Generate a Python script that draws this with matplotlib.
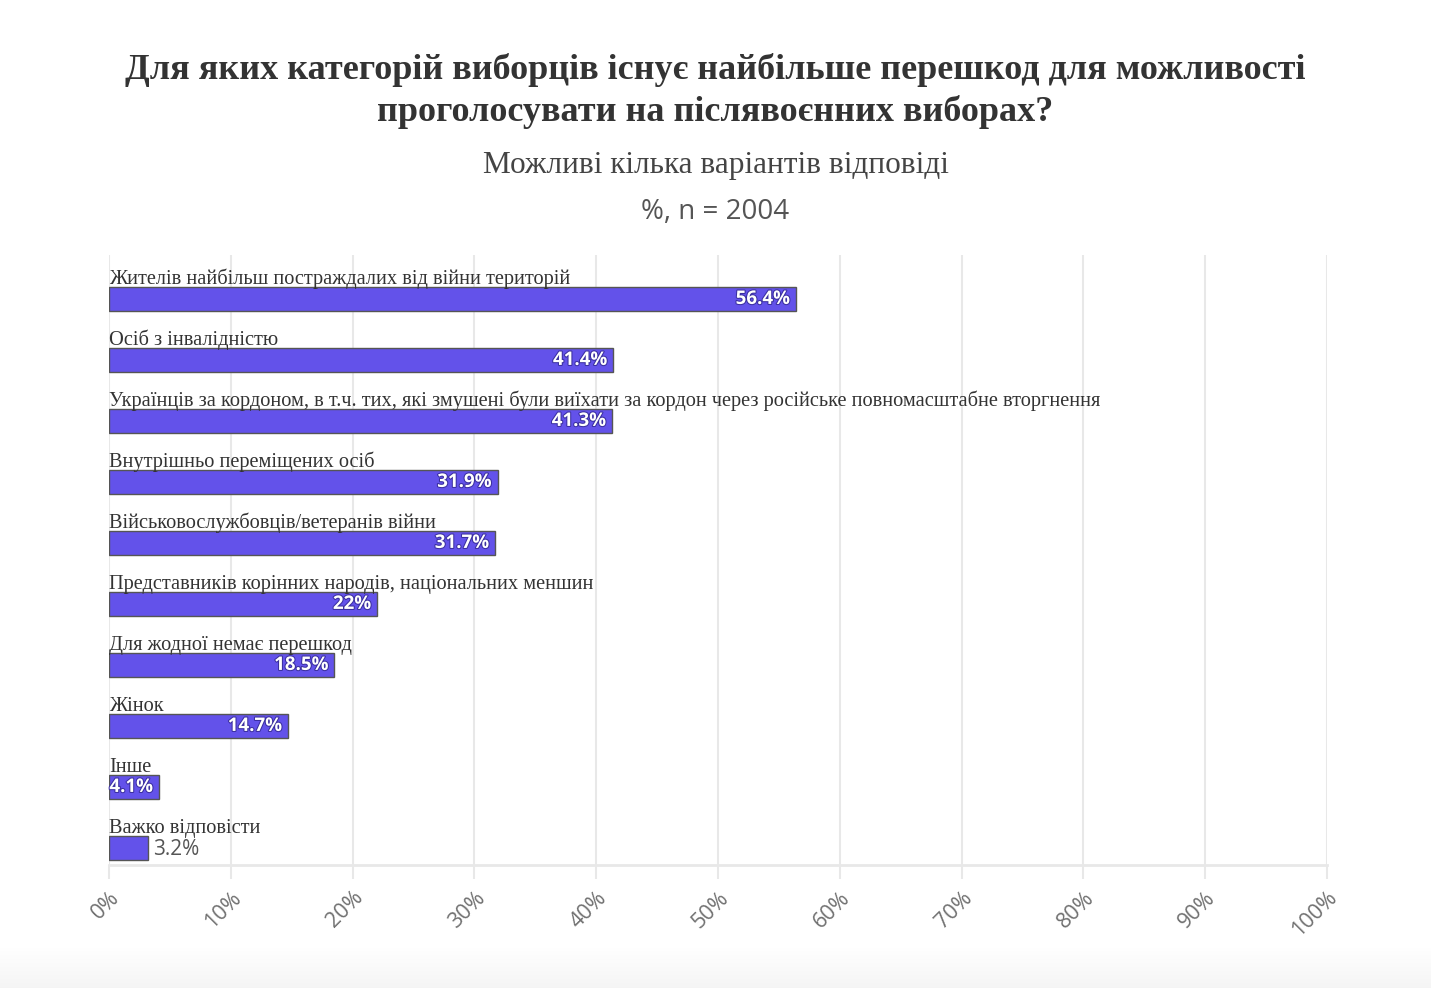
import numpy as np
import matplotlib.pyplot as plt
import matplotlib.patheffects as pe

categories = [
    'Жителів найбільш постраждалих від війни територій',
    'Осіб з інвалідністю',
    'Українців за кордоном, в т.ч. тих, які змушені були виїхати за кордон через російське повномасштабне вторгнення',
    'Внутрішньо переміщених осіб',
    'Військовослужбовців/ветеранів війни',
    'Представників корінних народів, національних меншин',
    'Для жодної немає перешкод',
    'Жінок',
    'Інше',
    'Важко відповісти',
]
values = [56.4, 41.4, 41.3, 31.9, 31.7, 22, 18.5, 14.7, 4.1, 3.2]
value_labels = ['56.4%', '41.4%', '41.3%', '31.9%', '31.7%', '22%', '18.5%', '14.7%', '4.1%', '3.2%']
xticks = np.arange(0, 101, 10)
xtick_labels = [f'{t}%' for t in xticks]

title = 'Для яких категорій виборців існує найбільше перешкод для можливості\nпроголосувати на післявоєнних виборах?'
subtitle = 'Можливі кілька варіантів відповіді'
note = '%, n = 2004'

bar_color = '#6352ea'
serif = ['Liberation Serif', 'DejaVu Serif']
sans = ['Open Sans', 'DejaVu Sans']

fig = plt.figure(figsize=(14.31, 9.88), dpi=100)
ax = fig.add_axes([109 / 1431, 1 - 865 / 988, (1327 - 109) / 1431, (865 - 255) / 988])

y = np.arange(len(categories))
ax.barh(y, values, height=0.39, color=bar_color, edgecolor='#555555', linewidth=1, zorder=3)

for i, (cat, v, lab) in enumerate(zip(categories, values, value_labels)):
    ax.annotate(cat, xy=(0, i), xytext=(0, 11), textcoords='offset points',
                ha='left', va='baseline', fontsize=14.7, family=serif, color='#333333',
                zorder=4, annotation_clip=False)
    if v >= 4:
        ax.annotate(lab, xy=(v, i), xytext=(-4, 0), textcoords='offset points',
                    ha='right', va='center', fontsize=13.5, family=sans, fontweight='bold',
                    color='white', zorder=5,
                    path_effects=[pe.withStroke(linewidth=1.5, foreground='#3b2fa0')])
    else:
        ax.annotate(lab, xy=(v, i), xytext=(4, -1), textcoords='offset points',
                    ha='left', va='center', fontsize=15, family=sans,
                    color='#555555', zorder=5)

ax.set_xlim(0, 100)
ax.set_ylim(9.28, -0.72)
ax.set_xticks(xticks)
ax.set_xticklabels(xtick_labels, rotation=45, ha='right', rotation_mode='anchor',
                   fontsize=15.5, family=sans, color='#707070')
ax.set_yticks([])
ax.tick_params(axis='x', length=10, color='#e8e8e8', width=1.5, pad=6)
ax.grid(axis='x', color='#e8e8e8', linewidth=1.5, zorder=0)
for s in ['top', 'right', 'left']:
    ax.spines[s].set_visible(False)
ax.spines['bottom'].set_color('#e8e8e8')
ax.spines['bottom'].set_linewidth(2)

fig.text(0.5, 1 - 91 / 988, title, ha='center', va='center', fontsize=26,
         family=serif, fontweight='bold', color='#333333', linespacing=1.3)
fig.text(0.5, 1 - 166 / 988, subtitle, ha='center', va='center', fontsize=22.5,
         family=serif, color='#444444')
fig.text(0.5, 1 - 212 / 988, note, ha='center', va='center', fontsize=20,
         family=sans, color='#555555')

# faint grey band at the bottom of the page
bg = fig.add_axes([0, 0, 1, 40 / 988], zorder=-1)
shade = np.linspace(1.0, 0.96, 50).reshape(-1, 1, 1) * np.ones((1, 1, 3))
bg.imshow(shade[::-1], aspect='auto', extent=[0, 1, 0, 1], origin='lower')
bg.axis('off')

fig.savefig('out.png', dpi=100)
